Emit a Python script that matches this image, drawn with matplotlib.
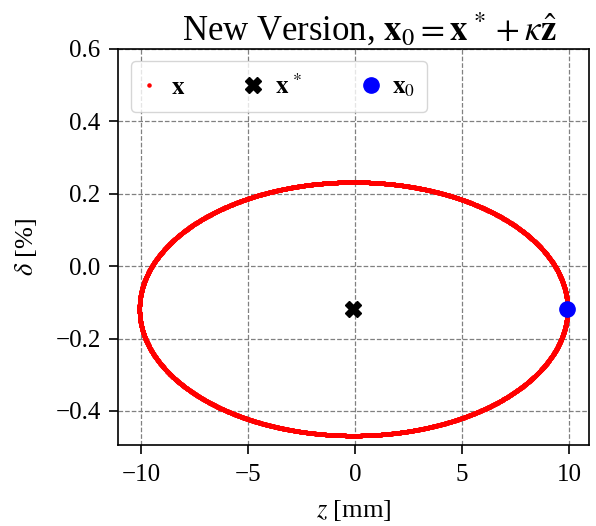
import numpy as np
import matplotlib
matplotlib.use("Agg")
import matplotlib.pyplot as plt

# Values
ellipse_center_z = -0.08      # mm
ellipse_center_delta = -0.118 # %
ellipse_amp_z = 10.0          # mm
ellipse_amp_delta = 0.35      # %
x_star = [-0.08, -0.118]      # (z, delta)
x_0 = [9.92, -0.118]          # (z, delta)
n_turn_points = 3000

plt.rcParams['font.family'] = ['Liberation Serif', 'DejaVu Serif']
plt.rcParams['mathtext.fontset'] = 'stix'

phase = np.linspace(0, 2 * np.pi, n_turn_points, endpoint=False)
z_track = ellipse_center_z + ellipse_amp_z * np.cos(phase)
d_track = ellipse_center_delta + ellipse_amp_delta * np.sin(phase)

fig = plt.figure(figsize=(5.96, 5.26), dpi=100)
ax = fig.add_axes([0.198, 0.154, 0.79, 0.753])

ax.plot(z_track, d_track, '.', color='red', markersize=4.5, label=r'$\mathbf{x}$', zorder=3)
ax.plot(x_star[0], x_star[1], 'X', color='black', markersize=12, label=r'$\mathbf{x}^{\,*}$', zorder=4)
ax.plot(x_0[0], x_0[1], 'o', color='blue', markersize=11, label=r'$\mathbf{x}_0$', zorder=5)

ax.set_xlim(-11.08, 10.92)
ax.set_ylim(-0.494, 0.6)
ax.set_xticks([-10, -5, 0, 5, 10])
ax.set_yticks([-0.4, -0.2, 0.0, 0.2, 0.4, 0.6])
ax.grid(True, linestyle='--', color='gray', linewidth=0.9)
ax.set_axisbelow(True)
ax.tick_params(labelsize=18, length=6.5, width=1.2, pad=6)
ax.tick_params(axis='x', pad=7)
for s in ax.spines.values():
    s.set_linewidth(1.2)

ax.set_xlabel(r'$z$ [mm]', fontsize=19, labelpad=9)
ax.set_ylabel(r'$\delta$ [%]', fontsize=19, labelpad=12)
ax.set_title(r'New Version, $\mathbf{x}_0 = \mathbf{x}^{\,*} + \kappa\hat{\mathbf{z}}$',
             fontsize=25, pad=3, x=0.533)

ax.legend(loc='upper left', ncol=3, fontsize=18, markerscale=1.0, borderpad=0.5,
          handlelength=0.5, handletextpad=0.6, columnspacing=2.5, borderaxespad=0.5)

fig.savefig('out.png', dpi=100)
